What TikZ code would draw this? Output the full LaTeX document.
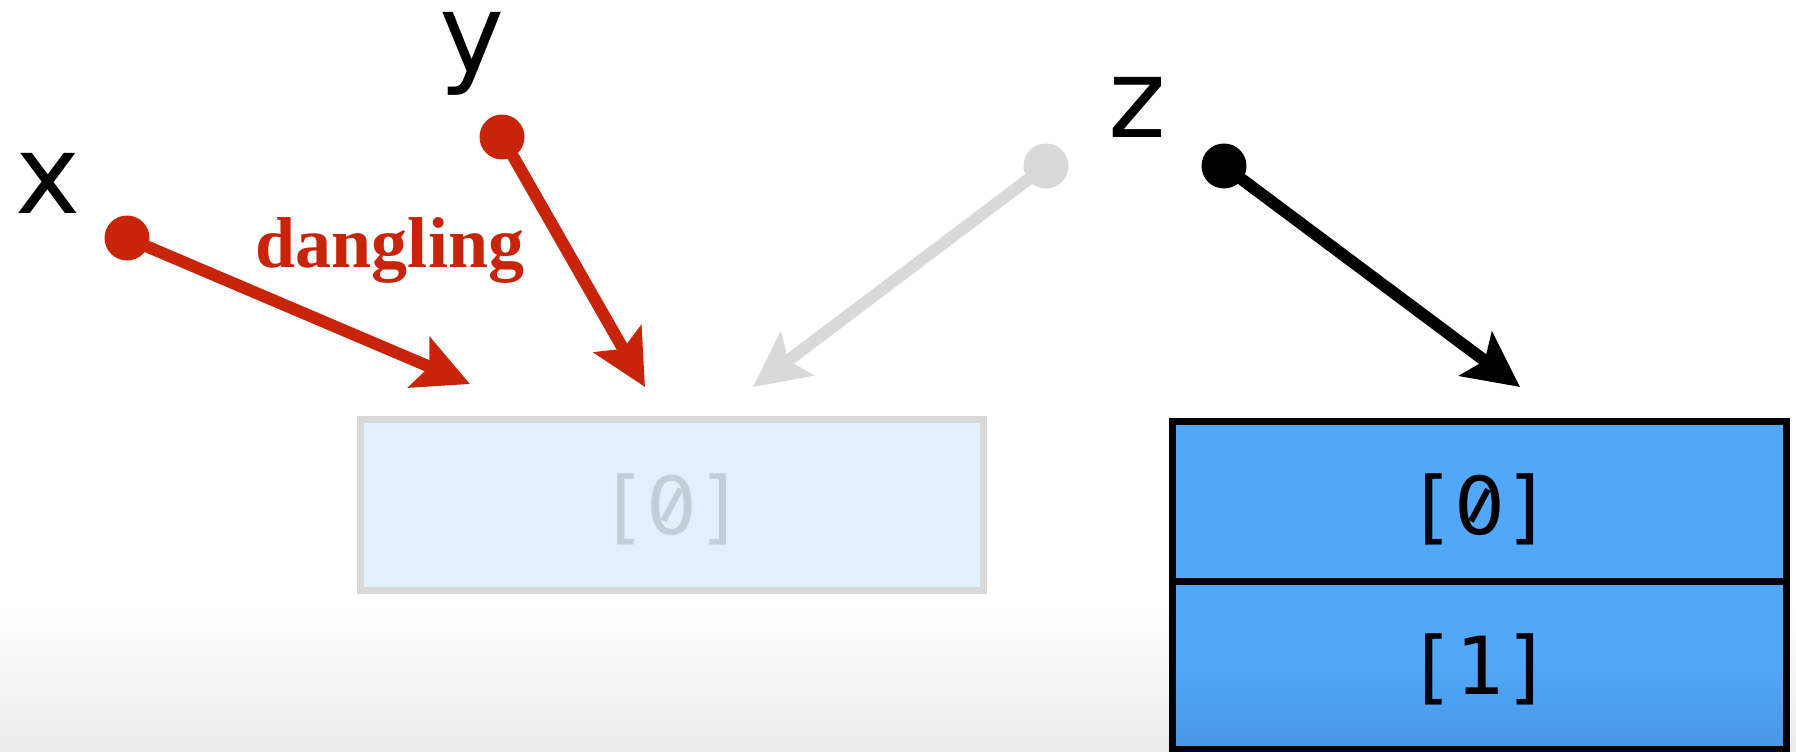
\documentclass[tikz,border=0pt]{standalone}
\usepackage{fontspec}
\usepackage{graphicx}
\setmainfont{DejaVu Sans}
\newfontfamily\codefont{DejaVu Sans Mono}
\newfontfamily\digitfont{DejaVu Sans}
\newfontfamily\notefont{Liberation Serif}
\usetikzlibrary{arrows.meta}

% zero with a diagonal stroke, set to the width of one mono cell
\newcommand\slzero{\makebox[0.602em]{\rlap{\makebox[0.636em]{\raisebox{0.149em}{\rotatebox{62}{\rule{0.45em}{0.075em}}}}}{\digitfont 0}}}

\definecolor{pointred}{RGB}{199,36,10}
\definecolor{stalegray}{RGB}{217,217,217}
\definecolor{stalefill}{RGB}{227,239,253}
\definecolor{staletext}{RGB}{195,206,216}
\definecolor{cellblue}{RGB}{81,167,249}
\definecolor{cellbluedeep}{RGB}{72,150,228}
\definecolor{floorgray}{RGB}{235,235,235}

\tikzset{
  ptrdot/.style={circle, inner sep=0pt, minimum size=45pt, fill=#1},
  ptr/.style={draw=#1, line width=12pt,
    -{Stealth[length=55pt, width=54pt, inset=11pt, fill=#1]}},
  varname/.style={inner sep=0pt, anchor=base, text=black,
    font=\fontsize{110}{120}\selectfont},
  memcell/.style={draw=black, fill=cellblue, line width=7pt, inner sep=0pt,
    minimum width=614pt, text=black, text depth=10pt, text height=68pt,
    font=\codefont\fontsize{80}{90}\selectfont},
  freedcell/.style={draw=stalegray, fill=stalefill, line width=7pt, inner sep=0pt,
    minimum width=623pt, minimum height=171pt, text=staletext,
    text depth=10pt, text height=68pt,
    font=\codefont\fontsize{80}{90}\selectfont},
}

\begin{document}
\begin{tikzpicture}[x=1pt, y=-1pt]
  \useasboundingbox (0,0) rectangle (1796,752);
  % page background with a soft floor
  \fill[white] (0,0) rectangle (1796,752);
  \shade[top color=white, bottom color=floorgray] (0,610) rectangle (1796,752);

  % freed block and the live array
  \node[freedcell] (old) at (672,505) {[\slzero]};
  \node[memcell, minimum height=159.5pt, text height=76.5pt] (c0) at (1479.5,501.25) {[\slzero]};
  \node[memcell, minimum height=168pt, top color=cellblue, bottom color=cellbluedeep,
        middle color=cellblue] (c1) at (1479.5,665) {[1]};

  % pointer variables
  \node[ptrdot=pointred] (xdot) at (127,238) {};
  \node[ptrdot=pointred] (ydot) at (502,137) {};
  \node[ptrdot=stalegray] (gdot) at (1046,166) {};
  \node[ptrdot=black] (zdot) at (1224,166) {};

  \coordinate (xend) at (470,384);
  \coordinate (yend) at (645,387);
  \coordinate (gend) at (753,387);
  \coordinate (zend) at (1520,387);

  \draw[ptr=pointred] (xdot.center) -- (xend);
  \draw[ptr=pointred] (ydot.center) -- (yend);
  \draw[ptr=stalegray] (gdot.center) -- (gend);
  \draw[ptr=black] (zdot.center) -- (zend);

  % labels
  \node[varname] (xname) at (48.5,213) {x};
  \node[varname] (yname) at (472,73) {y};
  \node[varname] (zname) at (1137,137) {z};
  \node[inner sep=0pt, anchor=base, text=pointred,
        font=\notefont\bfseries\fontsize{72}{80}\selectfont] (note) at (390,267) {dangling};
\end{tikzpicture}
\end{document}
